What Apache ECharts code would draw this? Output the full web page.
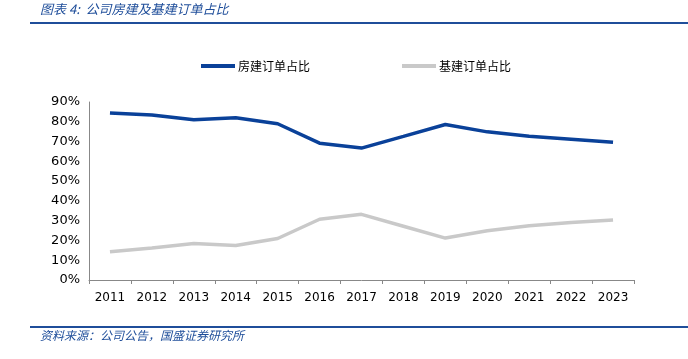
<!DOCTYPE html>
<html><head><meta charset="utf-8">
<script src="https://cdn.jsdelivr.net/npm/echarts@6/dist/echarts.min.js"></script>
<style>html,body{margin:0;padding:0;background:#fff}#c{width:688px;height:359px}</style>
</head><body><div id="c"></div>
<script>
const categories = ['2011','2012','2013','2014','2015','2016','2017','2018','2019','2020','2021','2022','2023'];
const housing = [84.4, 83.4, 81.0, 82.0, 79.0, 69.2, 66.7, 72.6, 78.6, 74.9, 72.7, 71.2, 69.6];
const infra = [14.3, 16.2, 18.4, 17.4, 21.0, 30.7, 33.2, 27.2, 21.2, 24.9, 27.4, 29.1, 30.3];
const yTicks = [0, 10, 20, 30, 40, 50, 60, 70, 80, 90];

const chart = echarts.init(document.getElementById('c'));
const cjk = '"Noto Sans CJK SC", sans-serif';
chart.setOption({
  animation: false,
  graphic: [
    {type:'text', left: 40, top: 3, style:{text:'图表 4:  公司房建及基建订单占比', font:'italic 13px "Noto Sans CJK SC", sans-serif', fill:'#1f4e9a'}},
    {type:'rect', shape:{x:30, y:22, width:658, height:2}, style:{fill:'#1f4e9a'}},
    {type:'rect', shape:{x:30, y:326, width:658, height:2}, style:{fill:'#1f4e9a'}},
    {type:'text', left: 40, top: 329, style:{text:'资料来源：公司公告，国盛证券研究所', font:'italic 12px "Noto Sans CJK SC", sans-serif', fill:'#1f4e9a'}}
  ],
  legend: {
    top: 55, left: 196, itemGap: 92, itemWidth: 34, itemHeight: 4,
    icon: 'rect',
    textStyle: {fontFamily: cjk, fontSize: 12, color: '#000', padding:[0,0,0,-2]},
    data: ['房建订单占比','基建订单占比']
  },
  grid: {left: 89, right: 54, top: 102, bottom: 79},
  xAxis: {
    type: 'category', data: categories, boundaryGap: true,
    axisLine: {lineStyle: {color: '#888'}},
    axisTick: {show: true, length: 4, lineStyle:{color:'#888'}},
    axisLabel: {color: '#000', fontFamily: 'DejaVu Sans', fontSize: 12, margin: 12}
  },
  yAxis: {
    type: 'value', min: 0, max: 90, interval: 10,
    axisLine: {show: true, lineStyle: {color: '#888'}},
    axisTick: {show: false},
    splitLine: {show: false},
    axisLabel: {color: '#000', fontFamily: 'DejaVu Sans', fontSize: 13, margin: 9,
      formatter: v => yTicks.includes(v) ? v + '%' : ''}
  },
  series: [
    {name:'房建订单占比', type:'line', data: housing, symbol:'none', lineStyle:{width:3.5, color:'#0a4199'}, itemStyle:{color:'#0a4199'}},
    {name:'基建订单占比', type:'line', data: infra, symbol:'none', lineStyle:{width:3.5, color:'#c9c9c9'}, itemStyle:{color:'#c9c9c9'}}
  ]
});
</script></body></html>
